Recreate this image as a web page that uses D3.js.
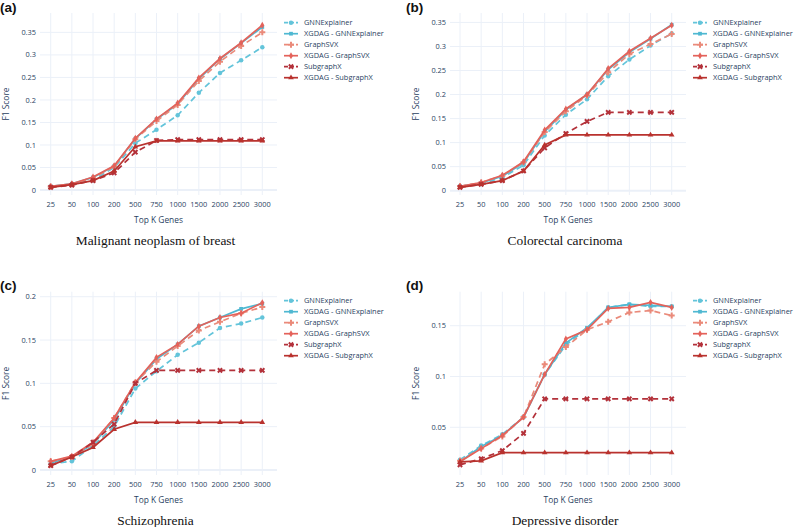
<!DOCTYPE html>
<html>
<head>
<meta charset="utf-8">
<script src="https://cdn.jsdelivr.net/npm/d3@7"></script>
<style>
  body { margin: 0; background: #fff; }
  svg { display: block; }
  .tick-label { font-family: "Open Sans", sans-serif; font-size: 7.4px; fill: #2a3f5f; }
  .axis-title { font-family: "Open Sans", sans-serif; font-size: 8.4px; fill: #2a3f5f; }
  .legend-text { font-family: "Open Sans", sans-serif; font-size: 7.4px; fill: #2a3f5f; }
  .panel-title { font-family: "Liberation Serif", "Times New Roman", serif; font-size: 13.4px; fill: #111; }
  .panel-label { font-family: "Liberation Sans", Arial, sans-serif; font-size: 13.5px; font-weight: bold; fill: #111; }
</style>
</head>
<body>
<svg id="chart" width="796" height="527"></svg>
<script>
// categories on the x axis
var top_k = ["25", "50", "100", "200", "500", "750", "1000", "1500", "2000", "2500", "3000"];

var methods = ["GNNExplainer", "XGDAG - GNNExplainer", "GraphSVX", "XGDAG - GraphSVX", "SubgraphX", "XGDAG - SubgraphX"];

// F1 scores, one row per method (same order as methods)
var breast_scores = [
    [0.007, 0.012, 0.022, 0.050, 0.104, 0.134, 0.166, 0.216, 0.260, 0.288, 0.317],
    [0.008, 0.014, 0.028, 0.053, 0.114, 0.157, 0.191, 0.247, 0.291, 0.326, 0.362],
    [0.008, 0.013, 0.027, 0.052, 0.113, 0.153, 0.189, 0.242, 0.285, 0.320, 0.350],
    [0.008, 0.014, 0.029, 0.054, 0.115, 0.158, 0.193, 0.249, 0.292, 0.327, 0.366],
    [0.006, 0.011, 0.021, 0.038, 0.084, 0.110, 0.112, 0.112, 0.112, 0.112, 0.112],
    [0.006, 0.012, 0.021, 0.042, 0.096, 0.109, 0.109, 0.109, 0.109, 0.109, 0.109]
];

var colorectal_scores = [
    [0.008, 0.014, 0.027, 0.053, 0.115, 0.158, 0.190, 0.238, 0.273, 0.302, 0.327],
    [0.009, 0.016, 0.030, 0.058, 0.123, 0.168, 0.200, 0.252, 0.288, 0.316, 0.345],
    [0.009, 0.017, 0.031, 0.059, 0.122, 0.165, 0.198, 0.246, 0.284, 0.305, 0.326],
    [0.009, 0.017, 0.032, 0.060, 0.126, 0.170, 0.200, 0.254, 0.290, 0.317, 0.344],
    [0.007, 0.013, 0.021, 0.041, 0.089, 0.119, 0.144, 0.163, 0.163, 0.163, 0.163],
    [0.007, 0.013, 0.021, 0.041, 0.095, 0.116, 0.116, 0.116, 0.116, 0.116, 0.116]
];

var schizophrenia_scores = [
    [0.007, 0.010, 0.028, 0.050, 0.094, 0.114, 0.133, 0.147, 0.164, 0.169, 0.176],
    [0.008, 0.015, 0.030, 0.058, 0.100, 0.128, 0.145, 0.166, 0.176, 0.186, 0.192],
    [0.010, 0.015, 0.030, 0.060, 0.101, 0.125, 0.143, 0.161, 0.171, 0.181, 0.188],
    [0.010, 0.016, 0.032, 0.060, 0.101, 0.130, 0.145, 0.166, 0.176, 0.181, 0.193],
    [0.005, 0.015, 0.032, 0.053, 0.100, 0.115, 0.115, 0.115, 0.115, 0.115, 0.115],
    [0.005, 0.015, 0.026, 0.047, 0.055, 0.055, 0.055, 0.055, 0.055, 0.055, 0.055]
];

var depressive_scores = [
    [0.018, 0.032, 0.043, 0.060, 0.102, 0.131, 0.147, 0.168, 0.171, 0.169, 0.169],
    [0.016, 0.031, 0.042, 0.060, 0.102, 0.133, 0.148, 0.168, 0.171, 0.170, 0.169],
    [0.017, 0.029, 0.041, 0.060, 0.112, 0.129, 0.146, 0.154, 0.163, 0.165, 0.160],
    [0.016, 0.029, 0.042, 0.060, 0.102, 0.137, 0.146, 0.167, 0.168, 0.173, 0.168],
    [0.013, 0.019, 0.027, 0.044, 0.078, 0.078, 0.078, 0.078, 0.078, 0.078, 0.078],
    [0.016, 0.017, 0.025, 0.025, 0.025, 0.025, 0.025, 0.025, 0.025, 0.025, 0.025]
];

var panel_titles = ["Malignant neoplasm of breast", "Colorectal carcinoma", "Schizophrenia", "Depressive disorder"];
var panel_letters = ["(a)", "(b)", "(c)", "(d)"];
var ticks_ab = [0, 0.05, 0.1, 0.15, 0.2, 0.25, 0.3, 0.35];
var ticks_c = [0, 0.05, 0.1, 0.15, 0.2];
var ticks_d = [0.05, 0.1, 0.15];

/* styling of each method */
var colors = ["#63c4da", "#4fb8d2", "#ea8a7a", "#e4625a", "#b3313a", "#b9322e"];
var dashed = [true, false, true, false, true, false];
var symbols = [d3.symbolCircle, d3.symbolSquare, d3.symbolCross, d3.symbolDiamond, d3.symbolCross, d3.symbolTriangle];
var symbol_size = [16, 14, 20, 14, 20, 14];
var symbol_rot = [0, 0, 0, 0, 45, 0];

var svg = d3.select("#chart");

function drawMarker(g, i, x, y) {
    g.append("path")
        .attr("d", d3.symbol().type(symbols[i]).size(symbol_size[i])())
        .attr("transform", "translate(" + x + "," + y + ") rotate(" + symbol_rot[i] + ")")
        .attr("fill", colors[i]);
}

function drawPanel(p, scores) {
    var g = svg.append("g");

    var x = d3.scalePoint().domain(top_k).range([p.cx0, p.cx1]);
    var y = d3.scaleLinear().domain(p.domain).range([p.bottom, p.top]);

    // grid
    g.selectAll(".vgrid")
        .data(top_k)
        .join("line")
        .attr("x1", d => x(d)).attr("x2", d => x(d))
        .attr("y1", p.top).attr("y2", p.bottom)
        .attr("stroke", "#ebf0f8").attr("stroke-width", 1);

    g.selectAll(".hgrid")
        .data(p.ticks)
        .join("line")
        .attr("x1", p.left).attr("x2", p.right)
        .attr("y1", d => y(d)).attr("y2", d => y(d))
        .attr("stroke", "#ebf0f8").attr("stroke-width", d => d == 0 ? 2 : 1);

    // tick labels
    g.selectAll(".ytick")
        .data(p.ticks)
        .join("text")
        .attr("class", "tick-label")
        .attr("x", p.left - 4)
        .attr("y", d => y(d))
        .attr("dy", "0.35em")
        .attr("text-anchor", "end")
        .text(d => String(+d.toFixed(2)));

    g.selectAll(".xtick")
        .data(top_k)
        .join("text")
        .attr("class", "tick-label")
        .attr("x", d => x(d))
        .attr("y", p.bottom + 12)
        .attr("text-anchor", "middle")
        .text(d => d);

    g.append("text")
        .attr("class", "axis-title")
        .attr("x", (p.left + p.right) / 2)
        .attr("y", p.bottom + 28)
        .attr("text-anchor", "middle")
        .text("Top K Genes");

    g.append("text")
        .attr("class", "axis-title")
        .attr("transform", "translate(" + (p.left - 31) + "," + ((p.top + p.bottom) / 2) + ") rotate(-90)")
        .attr("text-anchor", "middle")
        .text("F1 Score");

    // lines + markers
    var line = d3.line()
        .x((d, j) => x(top_k[j]))
        .y(d => y(d));

    scores.forEach(function(vals, i) {
        g.append("path")
            .attr("d", line(vals))
            .attr("fill", "none")
            .attr("stroke", colors[i])
            .attr("stroke-width", 1.7)
            .attr("stroke-dasharray", dashed[i] ? "6,4" : null);
        vals.forEach(function(v, j) {
            drawMarker(g, i, x(top_k[j]), y(v));
        });
    });

    // legend
    methods.forEach(function(m, i) {
        var ly = p.legendY + i * 11;
        g.append("line")
            .attr("x1", p.right + 7).attr("x2", p.right + 21)
            .attr("y1", ly).attr("y2", ly)
            .attr("stroke", colors[i])
            .attr("stroke-width", 1.7)
            .attr("stroke-dasharray", dashed[i] ? "4,2" : null);
        drawMarker(g, i, p.right + 14, ly);
        g.append("text")
            .attr("class", "legend-text")
            .attr("x", p.right + 27)
            .attr("y", ly)
            .attr("dy", "0.35em")
            .text(m);
    });

    g.append("text")
        .attr("class", "panel-label")
        .attr("x", p.labelX)
        .attr("y", p.labelY)
        .text(p.letter);

    g.append("text")
        .attr("class", "panel-title")
        .attr("x", (p.left + p.right) / 2 - 3)
        .attr("y", p.bottom + 50)
        .attr("text-anchor", "middle")
        .text(p.title);
}

var panels = [
    { left: 40, right: 277, top: 13, bottom: 195, cx0: 50.7, cx1: 262.3, domain: [-0.011, 0.393], ticks: ticks_ab, legendY: 22.7, labelX: 0, labelY: 12 },
    { left: 450, right: 686, top: 13, bottom: 195, cx0: 460, cx1: 671.7, domain: [-0.009, 0.3696], ticks: ticks_ab, legendY: 22.7, labelX: 406, labelY: 12 },
    { left: 40, right: 277, top: 291.7, bottom: 475, cx0: 50.7, cx1: 262.3, domain: [-0.0058, 0.2058], ticks: ticks_c, legendY: 300.7, labelX: 0, labelY: 290 },
    { left: 450, right: 686, top: 291.7, bottom: 475, cx0: 460, cx1: 671.7, domain: [0.003, 0.1835], ticks: ticks_d, legendY: 300.7, labelX: 406, labelY: 290 }
];
var all_scores = [breast_scores, colorectal_scores, schizophrenia_scores, depressive_scores];

panels.forEach(function(p, k) {
    p.title = panel_titles[k];
    p.letter = panel_letters[k];
    drawPanel(p, all_scores[k]);
});
</script>
</body>
</html>
